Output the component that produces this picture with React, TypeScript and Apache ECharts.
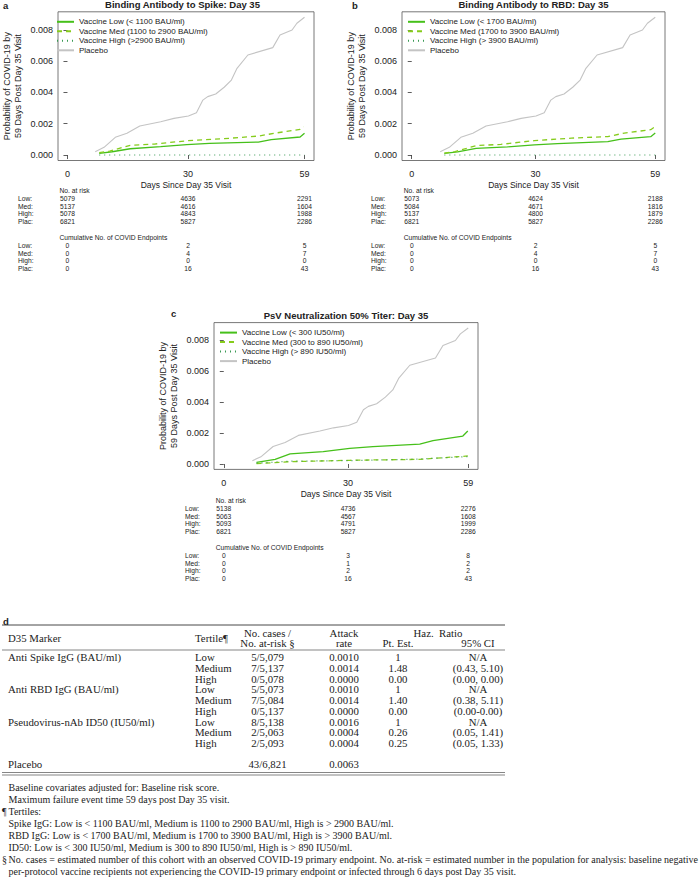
import React, { useEffect, useRef } from "react";
import * as echarts from "echarts";

// ---------- data ----------
const placeboDays = [6.9, 9.1, 11.9, 14.8, 18.0, 23.2, 26.5, 30.1, 32.1, 33.7, 34.9, 36.9, 39.0, 40.8, 42.2, 44.9, 51.1, 52.9, 55.9, 57.1, 59.0];
const placeboProb = [0.00021, 0.00049, 0.00113, 0.00139, 0.00185, 0.00213, 0.00234, 0.00249, 0.0027, 0.00351, 0.00373, 0.0039, 0.00433, 0.00479, 0.00554, 0.00639, 0.00686, 0.00767, 0.00799, 0.00842, 0.0088];

const spikeLowDays = [7.9, 11.1, 15.6, 23.2, 29.7, 35.3, 47.5, 50.7, 57.9, 59.0];
const spikeLowProb = [0.00011, 0.00021, 0.0004, 0.00053, 0.00066, 0.00075, 0.00083, 0.00098, 0.00115, 0.00139];
const spikeMedDays = [7.9, 10.5, 15.6, 21.6, 29.7, 38.7, 47.5, 51.5, 57.9, 58.8];
const spikeMedProb = [0.00015, 0.00025, 0.00062, 0.0007, 0.00091, 0.00104, 0.00121, 0.00139, 0.00164, 0.00181];
const spikeHighDays = [7.9, 59.0];
const spikeHighProb = [0, 0];

const rbdLowDays = [7.9, 11.1, 15.6, 23.2, 29.7, 35.3, 47.5, 50.7, 57.9, 59.0];
const rbdLowProb = [0.0001, 0.0002, 0.00042, 0.00052, 0.00065, 0.00073, 0.00085, 0.00101, 0.00117, 0.0014];
const rbdMedDays = [7.9, 10.5, 15.6, 21.6, 29.7, 38.7, 47.5, 51.5, 57.9, 58.9];
const rbdMedProb = [0.00012, 0.00022, 0.0006, 0.00068, 0.00092, 0.00108, 0.00118, 0.0014, 0.00162, 0.0018];
const rbdHighDays = [7.9, 59.0];
const rbdHighProb = [0, 0];

const psvLowDays = [7.9, 12.4, 16.0, 24.0, 30.4, 36.0, 47.3, 50.5, 57.7, 58.9];
const psvLowProb = [0.00011, 0.0003, 0.00065, 0.0008, 0.00101, 0.00112, 0.00129, 0.00151, 0.00181, 0.00214];
const psvMedDays = [7.9, 16.0, 30.4, 47.3, 50.5, 58.9];
const psvMedProb = [0.00002, 0.00015, 0.00024, 0.0003, 0.00036, 0.00052];
const psvHighDays = [7.9, 16.0, 30.4, 47.3, 58.9];
const psvHighProb = [0.00005, 0.00018, 0.00022, 0.00032, 0.00048];

const xTicks = [0, 30, 59];
const yTicks = [0, 0.002, 0.004, 0.006, 0.008];
const riskRowLabels = ["Low:", "Med:", "High:", "Plac:"];

const spikeAtRisk = [[5079, 4636, 2291], [5137, 4616, 1604], [5078, 4843, 1988], [6821, 5827, 2286]];
const spikeEvents = [[0, 2, 5], [0, 4, 7], [0, 0, 0], [0, 16, 43]];
const rbdAtRisk = [[5073, 4624, 2188], [5084, 4671, 1816], [5137, 4800, 1879], [6821, 5827, 2286]];
const rbdEvents = [[0, 2, 5], [0, 4, 7], [0, 0, 0], [0, 16, 43]];
const psvAtRisk = [[5138, 4736, 2276], [5063, 4567, 1608], [5093, 4791, 1999], [6821, 5827, 2286]];
const psvEvents = [[0, 3, 8], [0, 1, 2], [0, 2, 2], [0, 16, 43]];

const spikeLegend = ["Vaccine Low (< 1100 BAU/ml)", "Vaccine Med (1100 to 2900 BAU/ml)", "Vaccine High (>2900 BAU/ml)", "Placebo"];
const rbdLegend = ["Vaccine Low (< 1700 BAU/ml)", "Vaccine Med (1700 to 3900 BAU/ml)", "Vaccine High (> 3900 BAU/ml)", "Placebo"];
const psvLegend = ["Vaccine Low (< 300 IU50/ml)", "Vaccine Med (300 to 890 IU50/ml)", "Vaccine High (> 890 IU50/ml)", "Placebo"];

const tableMarkers = ["Anti Spike IgG (BAU/ml)", "Anti RBD IgG (BAU/ml)", "Pseudovirus-nAb ID50 (IU50/ml)"];
const tableTertiles = ["Low", "Medium", "High"];
const tableCases = [["5/5,079", "7/5,137", "0/5,078"], ["5/5,073", "7/5,084", "0/5,137"], ["8/5,138", "2/5,063", "2/5,093"]];
const tableRates = [["0.0010", "0.0014", "0.0000"], ["0.0010", "0.0014", "0.0000"], ["0.0016", "0.0004", "0.0004"]];
const tableHR = [["1", "1.48", "0.00"], ["1", "1.40", "0.00"], ["1", "0.26", "0.25"]];
const tableCI = [["N/A", "(0.43, 5.10)", "(0.00, 0.00)"], ["N/A", "(0.38, 5.11)", "(0.00-0.00)"], ["N/A", "(0.05, 1.41)", "(0.05, 1.33)"]];
const placeboRow = ["Placebo", "43/6,821", "0.0063"];

const footnotes = [
  { mark: "", text: "Baseline covariates adjusted for: Baseline risk score." },
  { mark: "", text: "Maximum failure event time 59 days post Day 35 visit." },
  { mark: "¶", text: "Tertiles:" },
  { mark: "", text: "Spike IgG: Low is < 1100 BAU/ml, Medium is 1100 to 2900 BAU/ml, High is > 2900 BAU/ml." },
  { mark: "", text: "RBD IgG: Low is < 1700 BAU/ml, Medium is 1700 to 3900 BAU/ml, High is > 3900 BAU/ml." },
  { mark: "", text: "ID50: Low is < 300 IU50/ml, Medium is 300 to 890 IU50/ml, High is > 890 IU50/ml." },
  { mark: "§", text: "No. cases = estimated number of this cohort with an observed COVID-19 primary endpoint. No. at-risk = estimated number in the population for analysis: baseline negative" },
  { mark: "", text: "per-protocol vaccine recipients not experiencing the COVID-19 primary endpoint or infected through 6 days post Day 35 visit." },
];

// ---------- styles / layout ----------
const SANS = "Liberation Sans, Arial, Helvetica, sans-serif";
const SERIF = "Liberation Serif, Times New Roman, serif";
const C_LOW = "#46c01a";
const C_MED = "#86cc1c";
const C_HIGH = "#3a9a55";
const C_PLAC = "#c4c4c4";
const INK = "#222";

const panels = [
  {
    letter: "a", title: "Binding Antibody to Spike: Day 35", legend: spikeLegend,
    grid: { left: 51, top: 11.8, width: 263, height: 148.7 },
    low: [spikeLowDays, spikeLowProb], med: [spikeMedDays, spikeMedProb], high: [spikeHighDays, spikeHighProb],
    atRisk: spikeAtRisk, events: spikeEvents,
    letterPos: [3, 5], rowLabelX: 18, riskTop: 190,
  },
  {
    letter: "b", title: "Binding Antibody to RBD: Day 35", legend: rbdLegend,
    grid: { left: 402, top: 11.8, width: 263, height: 148.7 },
    low: [rbdLowDays, rbdLowProb], med: [rbdMedDays, rbdMedProb], high: [rbdHighDays, rbdHighProb],
    atRisk: rbdAtRisk, events: rbdEvents,
    letterPos: [352, 5], rowLabelX: 371, riskTop: 190,
  },
  {
    letter: "c", title: "PsV Neutralization 50% Titer: Day 35", legend: psvLegend,
    grid: { left: 214, top: 322.6, width: 264, height: 146.8 },
    low: [psvLowDays, psvLowProb], med: [psvMedDays, psvMedProb], high: [psvHighDays, psvHighProb],
    atRisk: psvAtRisk, events: psvEvents,
    letterPos: [171, 313], rowLabelX: 185, riskTop: 500,
  },
];

const zip = (xs: number[], ys: number[]) => xs.map((x, i) => [x, ys[i]]);

function text(x: number, y: number, s: string, o: any = {}) {
  const size = o.size || 7;
  return {
    type: "text",
    x, y,
    silent: true,
    style: {
      text: s,
      fill: o.fill || INK,
      fontSize: size,
      fontFamily: o.family || SANS,
      fontWeight: o.weight || "normal",
      lineHeight: o.lh || size,
      align: o.align || "left",
      verticalAlign: "middle",
      textAlign: o.align || "left",
      textVerticalAlign: "middle",
    },
  };
}

function hline(x1: number, x2: number, y: number, w = 0.8) {
  return { type: "line", silent: true, shape: { x1, y1: y, x2, y2: y }, style: { stroke: "#333", lineWidth: w } };
}

export default function App() {
  const ref = useRef<HTMLDivElement>(null);

  useEffect(() => {
    const chart = echarts.init(ref.current!, null, { renderer: "svg" });

    const grids: any[] = [];
    const xAxes: any[] = [];
    const yAxes: any[] = [];
    const series: any[] = [];
    const legends: any[] = [];
    const graphics: any[] = [];

    panels.forEach((p, i) => {
      grids.push({ ...p.grid, show: true, borderColor: "#555", borderWidth: 0.8, backgroundColor: "transparent", containLabel: false });
      xAxes.push({
        type: "value", gridIndex: i, min: -2.36, max: 61.36,
        name: "Days Since Day 35 Visit", nameLocation: "middle", nameGap: 20,
        nameTextStyle: { fontFamily: SANS, fontSize: 8.5, color: INK },
        axisLine: { show: false },
        axisTick: { show: true, length: 4, customValues: xTicks, lineStyle: { color: "#333", width: 0.8 } },
        axisLabel: { show: true, customValues: xTicks, margin: 9, fontFamily: SANS, fontSize: 9, color: INK },
        splitLine: { show: false },
      });
      yAxes.push({
        type: "value", gridIndex: i, min: -0.00035, max: 0.00915,
        name: "Probability of COVID-19 by\n59 Days Post Day 35 Visit", nameLocation: "middle", nameGap: 35, nameRotate: 90,
        nameTextStyle: { fontFamily: SANS, fontSize: 9, color: INK, lineHeight: 11 },
        axisLine: { show: false },
        axisTick: { show: true, length: 4, customValues: yTicks, lineStyle: { color: "#333", width: 0.8 } },
        axisLabel: { show: true, customValues: yTicks, margin: 5, fontFamily: SANS, fontSize: 9, color: INK, formatter: (v: number) => v.toFixed(3) },
        splitLine: { show: false },
      });
      const mk = (name: string, d: number[][], color: string, type: any, width: number) => ({
        type: "line", name, xAxisIndex: i, yAxisIndex: i, data: zip(d[0], d[1]), showSymbol: false, symbol: "none",
        lineStyle: { color, type, width }, itemStyle: { color }, z: 3, silent: true,
      });
      series.push(mk(p.legend[3], [placeboDays, placeboProb], C_PLAC, "solid", 1.1));
      series.push(mk(p.legend[0], p.low as any, C_LOW, "solid", 1.3));
      series.push(mk(p.legend[1], p.med as any, C_MED, [5, 4], 1.3));
      series.push(mk(p.legend[2], p.high as any, C_HIGH, [1, 4], 1.2));

      legends.push({
        data: p.legend, orient: "vertical", left: p.grid.left + 5, top: p.grid.top + 6,
        itemWidth: 17, itemHeight: 8, itemGap: 1.5, padding: 0, selectedMode: false,
        itemStyle: { opacity: 0 },
        textStyle: { fontFamily: SANS, fontSize: 8, color: INK, lineHeight: 8 },
      });

      const cx = p.grid.left + p.grid.width / 2;
      graphics.push(text(cx, p.grid.top - 7, p.title, { size: 9.5, weight: "bold", align: "center" }));
      graphics.push(text(p.letterPos[0], p.letterPos[1], p.letter, { size: 9.5, weight: "bold" }));
    });

    chart.setOption({
      animation: false,
      grid: grids, xAxis: xAxes, yAxis: yAxes, series, legend: legends,
    });

    // risk tables positioned through the axes' scales
    const R = { size: 6.7, lh: 6.7 };
    const step = 7.6;
    panels.forEach((p, i) => {
      const xs = xTicks.map((t) => chart.convertToPixel({ xAxisIndex: i } as any, t) as unknown as number);
      const x0 = xs[0] - 8;
      const top = p.riskTop;
      graphics.push(text(x0, top, "No. at risk", R));
      p.atRisk.forEach((row, r) => {
        const y = top + 8.4 + r * step;
        graphics.push(text(p.rowLabelX, y, riskRowLabels[r], R));
        row.forEach((v, c) => graphics.push(text(xs[c], y, String(v), { ...R, align: "center" })));
      });
      const top2 = top + 47;
      graphics.push(text(x0, top2, "Cumulative No. of COVID Endpoints", R));
      p.events.forEach((row, r) => {
        const y = top2 + 8.4 + r * step;
        graphics.push(text(p.rowLabelX, y, riskRowLabels[r], R));
        row.forEach((v, c) => graphics.push(text(xs[c], y, String(v), { ...R, align: "center" })));
      });
    });

    // table d
    const T = { size: 10.8, family: SERIF, lh: 10 };
    const colT = 195, colCases = 267.5, colRate = 344, colPt = 398, colCI = 478;
    graphics.push(text(3, 621, "d", { size: 9.5, weight: "bold" }));
    graphics.push(hline(2, 505, 625, 0.9));
    graphics.push(text(8, 638, "D35 Marker", T));
    graphics.push(text(colT, 638, "Tertile¶", T));
    graphics.push(text(colCases, 632.5, "No. cases /", { ...T, align: "center" }));
    graphics.push(text(colCases, 643, "No. at-risk §", { ...T, align: "center" }));
    graphics.push(text(colRate, 632.5, "Attack", { ...T, align: "center" }));
    graphics.push(text(colRate, 643, "rate", { ...T, align: "center" }));
    graphics.push(text((colPt + colCI) / 2, 632.5, "Haz.  Ratio", { ...T, align: "center" }));
    graphics.push(text(colPt, 643, "Pt. Est.", { ...T, align: "center" }));
    graphics.push(text(colCI, 643, "95% CI", { ...T, align: "center" }));
    graphics.push(hline(2, 505, 650, 0.6));
    let ry = 657;
    tableMarkers.forEach((m, g) => {
      tableTertiles.forEach((t, r) => {
        if (r === 0) graphics.push(text(8, ry, m, T));
        graphics.push(text(colT, ry, t, T));
        graphics.push(text(colCases, ry, tableCases[g][r], { ...T, align: "center" }));
        graphics.push(text(colRate, ry, tableRates[g][r], { ...T, align: "center" }));
        graphics.push(text(colPt, ry, tableHR[g][r], { ...T, align: "center" }));
        graphics.push(text(colCI, ry, tableCI[g][r], { ...T, align: "center" }));
        ry += 10.75;
      });
    });
    const py = 764;
    graphics.push(text(8, py, placeboRow[0], T));
    graphics.push(text(colCases, py, placeboRow[1], { ...T, align: "center" }));
    graphics.push(text(colRate, py, placeboRow[2], { ...T, align: "center" }));
    graphics.push(hline(2, 505, 772.5, 0.6));
    graphics.push(hline(2, 505, 775, 0.6));

    footnotes.forEach((f, k) => {
      const y = 787 + k * 12;
      if (f.mark) graphics.push(text(2, y, f.mark, { size: 10, family: SERIF, lh: 11 }));
      graphics.push(text(8.5, y, f.text, { size: 10, family: SERIF, lh: 11 }));
    });

    chart.setOption({ graphic: { elements: graphics } });

    return () => chart.dispose();
  }, []);

  return <div ref={ref} style={{ position: "absolute", left: 0, top: 0, width: 700, height: 877, background: "#fff" }} />;
}
